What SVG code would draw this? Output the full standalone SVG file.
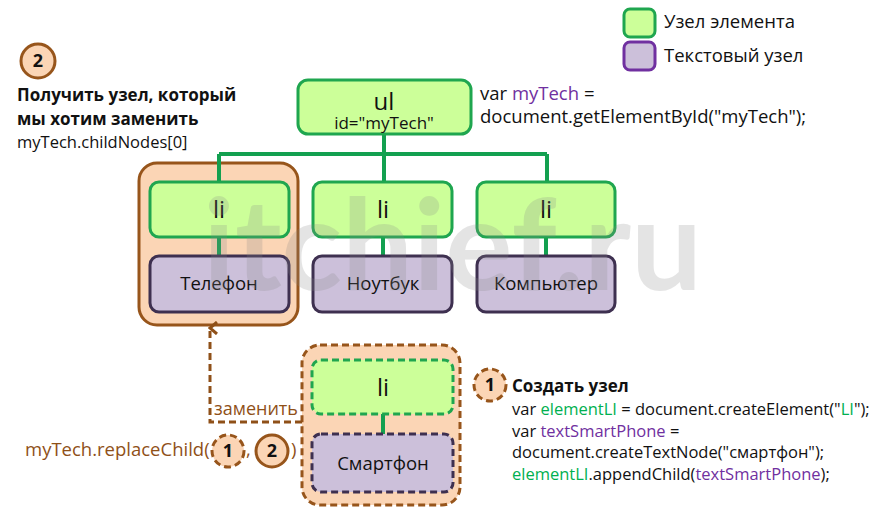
<svg xmlns="http://www.w3.org/2000/svg" width="895" height="516" viewBox="0 0 895 516">
<defs>
<style>
text{font-family:"Open Sans","Noto Sans",sans-serif;fill:#111}
.el{fill:#ccff99;stroke:#1fa64f;stroke-width:3}
.tx{fill:#ccc0da;stroke:#3e3050;stroke-width:3}
.hl{fill:#fbd5b5;stroke:#97551b;stroke-width:3}
.dash{stroke-dasharray:7 4}
.conn{stroke:#13a050;stroke-width:4;fill:none}
.li{font-size:24px;text-anchor:middle}
.lbl{font-size:18.5px;text-anchor:middle}
.code{font-size:16.5px}
.big{font-size:18.5px}
.b{font-weight:bold;font-size:17px}
.g{fill:#00b050}
.p{fill:#7030a0}
.br{fill:#8f5018}
.num{font-size:18px;font-weight:bold;text-anchor:middle}
</style>
<marker id="arr" markerWidth="14" markerHeight="14" refX="7" refY="2" orient="auto" markerUnits="userSpaceOnUse">
<path d="M1,9 L7,2 L13,9" fill="none" stroke="#8f5018" stroke-width="3"/>
</marker>
</defs>
<rect width="895" height="516" fill="#fff"/>

<g id="legend">
<rect x="624" y="9" width="31" height="28" rx="6" class="el"/>
<text x="664" y="28" class="big">Узел элемента</text>
<rect x="624" y="42" width="31" height="28" rx="6" fill="#ccc0da" stroke="#7030a0" stroke-width="3"/>
<text x="664" y="62" class="big">Текстовый узел</text>
</g>

<g id="step2">
<circle cx="38" cy="61" r="17" class="hl"/>
<text x="38" y="67" class="num">2</text>
<text x="17" y="101" class="b">Получить узел, который</text>
<text x="17" y="125" class="b">мы хотим заменить</text>
<text x="17" y="148" class="code">myTech.childNodes[0]</text>
</g>

<g id="highlight-old">
<rect x="139" y="163" width="159" height="162" rx="18" class="hl"/>
</g>
<g id="highlight-new">
<rect x="302" y="345" width="158" height="160" rx="18" class="hl dash"/>
</g>

<g id="connectors">
<path class="conn" d="M384,134 V154 M219,154 H547 M219,154 V182 M384,154 V182 M547,154 V182"/>
<path class="conn" d="M219,237 V256 M383,237 V256 M546,237 V256 M383,414 V434"/>
<path d="M302,422 H210 V328" fill="none" stroke="#8f5018" stroke-width="3" stroke-dasharray="7 4" marker-end="url(#arr)"/>
</g>

<g id="ul">
<rect x="298" y="80" width="173" height="54" rx="10" class="el"/>
<text x="384" y="110" style="font-size:24px;text-anchor:middle">ul</text>
<text x="384" y="129" style="font-size:17px;text-anchor:middle">id="myTech"</text>
</g>
<g id="ul-code">
<text x="480" y="100" class="big">var <tspan class="p">myTech</tspan> =</text>
<text x="480" y="123" class="big">document.getElementById("myTech");</text>
</g>

<g id="li1"><rect x="150" y="182" width="139" height="55" rx="9" class="el"/><text x="219" y="218" class="li">li</text></g>
<g id="li2"><rect x="313" y="182" width="139" height="55" rx="9" class="el"/><text x="383" y="218" class="li">li</text></g>
<g id="li3"><rect x="477" y="182" width="138" height="55" rx="9" class="el"/><text x="546" y="218" class="li">li</text></g>

<g id="t1"><rect x="150" y="256" width="139" height="56" rx="9" class="tx"/><text x="219" y="290" class="lbl">Телефон</text></g>
<g id="t2"><rect x="313" y="256" width="139" height="56" rx="9" class="tx"/><text x="383" y="290" class="lbl">Ноутбук</text></g>
<g id="t3"><rect x="477" y="256" width="138" height="56" rx="9" class="tx"/><text x="546" y="290" class="lbl">Компьютер</text></g>

<g id="li-new"><rect x="312" y="360" width="141" height="54" rx="9" class="el dash"/><text x="383" y="396" class="li">li</text></g>
<g id="t-new"><rect x="312" y="434" width="141" height="58" rx="9" class="tx dash"/><text x="383" y="470" class="lbl">Смартфон</text></g>

<g id="replace">
<text x="214" y="415" class="br" style="font-size:18px">заменить</text>
<text x="25" y="456" class="big br">myTech.replaceChild(</text>
<circle cx="228" cy="451" r="16" class="hl dash"/>
<text x="228" y="457" class="num">1</text>
<text x="246" y="456" class="big br">,</text>
<circle cx="272" cy="451" r="16" class="hl"/>
<text x="272" y="457" class="num">2</text>
<text x="291" y="456" class="big br">)</text>
</g>

<g id="step1">
<circle cx="490" cy="385" r="16" class="hl dash"/>
<text x="490" y="391" class="num">1</text>
<text x="512" y="392" class="b">Создать узел</text>
<text x="512" y="415" class="code">var <tspan class="g">elementLI</tspan> = document.createElement("<tspan class="g">LI</tspan>");</text>
<text x="512" y="437" class="code">var <tspan class="p">textSmartPhone</tspan> =</text>
<text x="512" y="458" class="code">document.createTextNode("смартфон");</text>
<text x="512" y="480" class="code"><tspan class="g">elementLI</tspan>.appendChild(<tspan class="p">textSmartPhone</tspan>);</text>
</g>

<text x="203" y="290" style="font-family:Lato,sans-serif;font-size:126px;font-weight:bold;fill:#888;opacity:0.22">itchief.ru</text>
</svg>
